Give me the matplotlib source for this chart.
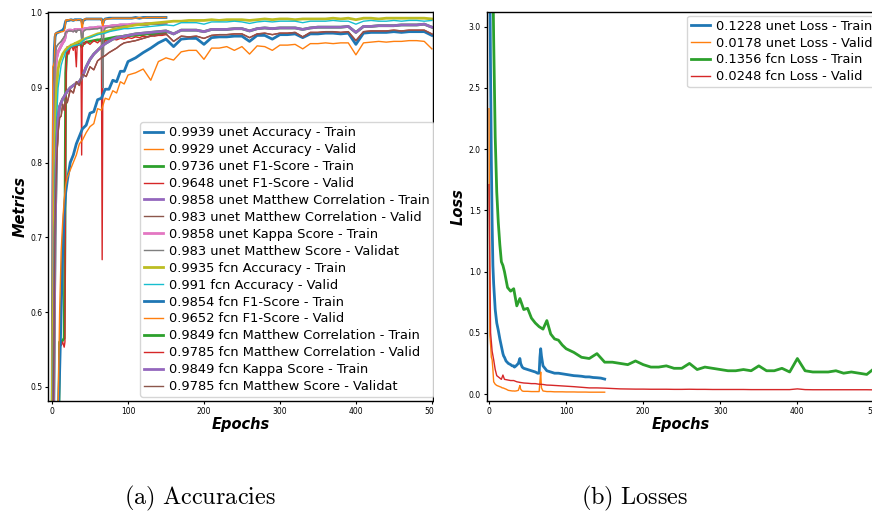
"""Training curves for the unet / fcn comparison: metrics on the left, losses on the right."""
import matplotlib
matplotlib.use("Agg")
import matplotlib.pyplot as plt
from matplotlib.patches import Rectangle

plt.rcParams["mathtext.fontset"] = "cm"

W, H = 872, 513

# ---- epochs ---------------------------------------------------------------
UNET_EPOCHS = [0, 1, 2, 3, 4, 5, 6, 8, 10, 12,
               14, 16, 17, 18, 19, 20, 22, 25, 28, 30,
               32, 33, 35, 38, 39, 40, 41, 43, 45, 50,
               55, 60, 63, 65, 66, 67, 68, 70, 75, 80,
               85, 90, 95, 100, 105, 110, 115, 120, 125, 130,
               135, 140, 145, 150]

FCN_EPOCHS = [0, 2, 4, 6, 8, 10, 12, 14, 16, 18,
              20, 24, 28, 32, 36, 40, 45, 50, 55, 60,
              65, 70, 75, 80, 85, 90, 95, 100, 110, 120,
              130, 140, 150, 160, 170, 180, 190, 200, 210, 220,
              230, 240, 250, 260, 270, 280, 290, 300, 310, 320,
              330, 340, 350, 360, 370, 380, 390, 400, 410, 420,
              430, 440, 450, 460, 470, 480, 490, 500]

# ---- unet metrics ---------------------------------------------------------
UNET_ACC_TRAIN = [0.40, 0.75, 0.90, 0.95, 0.968, 0.972, 0.973, 0.974, 0.975, 0.976,
                  0.977, 0.980, 0.985, 0.989, 0.990, 0.990, 0.990, 0.991, 0.990, 0.991,
                  0.991, 0.991, 0.991, 0.991, 0.990, 0.986, 0.990, 0.991, 0.992, 0.992,
                  0.992, 0.992, 0.992, 0.992, 0.990, 0.986, 0.990, 0.992, 0.993, 0.993,
                  0.993, 0.993, 0.993, 0.993, 0.993, 0.994, 0.993, 0.994, 0.994, 0.994,
                  0.994, 0.994, 0.994, 0.994]
UNET_ACC_VALID = [0.45, 0.928, 0.930, 0.935, 0.972, 0.973, 0.973, 0.974, 0.974, 0.975,
                  0.975, 0.976, 0.980, 0.990, 0.991, 0.990, 0.991, 0.991, 0.990, 0.991,
                  0.990, 0.991, 0.991, 0.991, 0.982, 0.978, 0.990, 0.992, 0.992, 0.992,
                  0.992, 0.992, 0.992, 0.992, 0.985, 0.979, 0.990, 0.992, 0.992, 0.993,
                  0.993, 0.993, 0.993, 0.993, 0.993, 0.993, 0.994, 0.993, 0.994, 0.994,
                  0.994, 0.994, 0.994, 0.994]
UNET_F1_TRAIN = [0.20, 0.22, 0.25, 0.27, 0.30, 0.32, 0.34, 0.38, 0.56, 0.560,
                 0.562, 0.565, 0.70, 0.92, 0.94, 0.948, 0.952, 0.955, 0.956, 0.957,
                 0.955, 0.957, 0.958, 0.959, 0.955, 0.956, 0.959, 0.960, 0.961, 0.962,
                 0.963, 0.964, 0.964, 0.965, 0.962, 0.958, 0.963, 0.965, 0.966, 0.967,
                 0.968, 0.968, 0.969, 0.969, 0.970, 0.970, 0.971, 0.971, 0.972, 0.972,
                 0.972, 0.973, 0.973, 0.974]
UNET_F1_VALID = [0.20, 0.22, 0.25, 0.27, 0.30, 0.32, 0.34, 0.38, 0.56, 0.555,
                 0.560, 0.553, 0.560, 0.880, 0.940, 0.955, 0.945, 0.958, 0.950, 0.960,
                 0.928, 0.955, 0.960, 0.955, 0.810, 0.955, 0.960, 0.958, 0.962, 0.958,
                 0.963, 0.960, 0.963, 0.962, 0.670, 0.955, 0.960, 0.963, 0.962, 0.965,
                 0.964, 0.966, 0.965, 0.967, 0.966, 0.968, 0.967, 0.969, 0.968, 0.970,
                 0.969, 0.970, 0.970, 0.971]
# matthew correlation and kappa coincide for unet train
UNET_MC_TRAIN = [0.30, 0.45, 0.65, 0.80, 0.90, 0.930, 0.940, 0.948, 0.952, 0.956,
                 0.960, 0.963, 0.966, 0.972, 0.975, 0.976, 0.977, 0.977, 0.976, 0.978,
                 0.977, 0.978, 0.978, 0.978, 0.976, 0.975, 0.978, 0.979, 0.979, 0.980,
                 0.980, 0.981, 0.981, 0.981, 0.979, 0.977, 0.980, 0.982, 0.982, 0.983,
                 0.983, 0.984, 0.984, 0.984, 0.985, 0.985, 0.985, 0.985, 0.986, 0.986,
                 0.986, 0.986, 0.986, 0.986]
UNET_KAPPA_TRAIN = UNET_MC_TRAIN
UNET_MC_VALID = [0.30, 0.50, 0.70, 0.85, 0.93, 0.950, 0.955, 0.958, 0.960, 0.962,
                 0.965, 0.968, 0.970, 0.974, 0.975, 0.975, 0.976, 0.976, 0.975, 0.977,
                 0.974, 0.977, 0.977, 0.977, 0.965, 0.958, 0.975, 0.977, 0.978, 0.978,
                 0.979, 0.979, 0.980, 0.980, 0.930, 0.900, 0.975, 0.980, 0.981, 0.981,
                 0.982, 0.982, 0.983, 0.983, 0.983, 0.984, 0.984, 0.984, 0.984, 0.985,
                 0.985, 0.985, 0.985, 0.985]
UNET_MS_VALID = UNET_MC_VALID

# ---- fcn metrics ----------------------------------------------------------
FCN_ACC_TRAIN = [0.46, 0.62, 0.84, 0.90, 0.925, 0.935, 0.940, 0.945, 0.948, 0.951,
                 0.953, 0.956, 0.958, 0.960, 0.962, 0.964, 0.966, 0.968, 0.970, 0.972,
                 0.973, 0.975, 0.976, 0.978, 0.979, 0.980, 0.981, 0.982, 0.984, 0.985,
                 0.986, 0.987, 0.988, 0.989, 0.989, 0.990, 0.990, 0.990, 0.991, 0.990,
                 0.991, 0.991, 0.991, 0.990, 0.991, 0.992, 0.991, 0.992, 0.992, 0.991,
                 0.992, 0.992, 0.992, 0.992, 0.993, 0.992, 0.993, 0.991, 0.993, 0.993,
                 0.992, 0.993, 0.993, 0.993, 0.993, 0.993, 0.993, 0.992]
FCN_ACC_VALID = [0.40, 0.55, 0.78, 0.86, 0.900, 0.915, 0.930, 0.937, 0.942, 0.948,
                 0.950, 0.954, 0.956, 0.957, 0.958, 0.962, 0.966, 0.967, 0.969, 0.971,
                 0.972, 0.973, 0.975, 0.976, 0.977, 0.978, 0.979, 0.979, 0.980, 0.981,
                 0.982, 0.983, 0.984, 0.983, 0.987, 0.987, 0.987, 0.985, 0.988, 0.988,
                 0.988, 0.989, 0.988, 0.986, 0.988, 0.989, 0.988, 0.989, 0.989, 0.989,
                 0.987, 0.989, 0.989, 0.989, 0.990, 0.989, 0.989, 0.985, 0.989, 0.990,
                 0.989, 0.989, 0.990, 0.989, 0.990, 0.990, 0.989, 0.990]
FCN_F1_TRAIN = [0.30, 0.32, 0.35, 0.40, 0.45, 0.52, 0.60, 0.68, 0.73, 0.76,
                0.775, 0.800, 0.810, 0.825, 0.835, 0.845, 0.850, 0.866, 0.868, 0.884,
                0.886, 0.898, 0.898, 0.910, 0.908, 0.922, 0.922, 0.935, 0.940, 0.947,
                0.953, 0.960, 0.965, 0.955, 0.965, 0.966, 0.966, 0.958, 0.967, 0.968,
                0.968, 0.969, 0.969, 0.962, 0.970, 0.970, 0.965, 0.971, 0.971, 0.972,
                0.967, 0.972, 0.972, 0.973, 0.973, 0.972, 0.973, 0.958, 0.973, 0.974,
                0.974, 0.974, 0.975, 0.974, 0.975, 0.975, 0.975, 0.970]
FCN_F1_VALID = [0.30, 0.32, 0.35, 0.40, 0.47, 0.60, 0.68, 0.72, 0.75, 0.77,
                0.780, 0.790, 0.800, 0.810, 0.825, 0.830, 0.840, 0.848, 0.852, 0.872,
                0.870, 0.886, 0.884, 0.896, 0.893, 0.908, 0.905, 0.917, 0.920, 0.925,
                0.910, 0.935, 0.940, 0.937, 0.948, 0.950, 0.950, 0.938, 0.953, 0.953,
                0.955, 0.950, 0.955, 0.945, 0.956, 0.955, 0.950, 0.957, 0.957, 0.958,
                0.952, 0.959, 0.959, 0.960, 0.959, 0.960, 0.960, 0.944, 0.960, 0.961,
                0.962, 0.961, 0.962, 0.962, 0.963, 0.963, 0.962, 0.952]
# correlation and kappa coincide for fcn train, correlation and score for valid
FCN_MC_TRAIN = [0.30, 0.45, 0.70, 0.82, 0.860, 0.875, 0.880, 0.885, 0.888, 0.892,
                0.895, 0.900, 0.903, 0.906, 0.908, 0.915, 0.928, 0.938, 0.945, 0.950,
                0.955, 0.959, 0.962, 0.965, 0.967, 0.968, 0.969, 0.970, 0.972, 0.973,
                0.974, 0.975, 0.976, 0.972, 0.977, 0.977, 0.977, 0.975, 0.978, 0.978,
                0.978, 0.979, 0.979, 0.976, 0.979, 0.980, 0.979, 0.980, 0.980, 0.980,
                0.978, 0.980, 0.981, 0.981, 0.981, 0.981, 0.982, 0.974, 0.982, 0.982,
                0.983, 0.983, 0.983, 0.984, 0.984, 0.984, 0.985, 0.981]
FCN_KAPPA_TRAIN = FCN_MC_TRAIN
FCN_MC_VALID = [0.30, 0.50, 0.72, 0.80, 0.840, 0.860, 0.862, 0.878, 0.870, 0.885,
                0.880, 0.897, 0.893, 0.908, 0.903, 0.918, 0.915, 0.928, 0.924, 0.936,
                0.940, 0.943, 0.947, 0.950, 0.953, 0.957, 0.960, 0.961, 0.963, 0.966,
                0.969, 0.971, 0.972, 0.962, 0.969, 0.968, 0.969, 0.966, 0.970, 0.971,
                0.971, 0.972, 0.972, 0.967, 0.972, 0.973, 0.971, 0.973, 0.973, 0.974,
                0.968, 0.974, 0.974, 0.975, 0.975, 0.974, 0.975, 0.963, 0.975, 0.976,
                0.976, 0.976, 0.977, 0.976, 0.977, 0.977, 0.977, 0.972]
FCN_MS_VALID = FCN_MC_VALID

# ---- losses ---------------------------------------------------------------
UNET_LOSS_TRAIN = [4.20, 3.40, 2.60, 1.90, 1.40, 1.05, 0.90, 0.69, 0.58, 0.52,
                   0.45, 0.39, 0.36, 0.33, 0.31, 0.30, 0.27, 0.25, 0.24, 0.23,
                   0.23, 0.22, 0.23, 0.25, 0.27, 0.29, 0.25, 0.22, 0.21, 0.20,
                   0.19, 0.18, 0.17, 0.17, 0.30, 0.37, 0.31, 0.23, 0.19, 0.18,
                   0.17, 0.17, 0.165, 0.16, 0.155, 0.15, 0.148, 0.145, 0.14, 0.14,
                   0.135, 0.133, 0.13, 0.122]
UNET_LOSS_VALID = [2.33, 0.48, 0.40, 0.30, 0.28, 0.20, 0.10, 0.080, 0.070, 0.065,
                   0.060, 0.055, 0.050, 0.050, 0.048, 0.045, 0.040, 0.030, 0.027, 0.025,
                   0.025, 0.024, 0.025, 0.030, 0.050, 0.070, 0.040, 0.025, 0.022, 0.022,
                   0.020, 0.020, 0.020, 0.020, 0.100, 0.180, 0.050, 0.025, 0.020, 0.020,
                   0.018, 0.018, 0.018, 0.017, 0.017, 0.017, 0.016, 0.016, 0.016, 0.015,
                   0.015, 0.015, 0.015, 0.015]
FCN_LOSS_TRAIN = [6.00, 5.00, 3.90, 2.90, 2.10, 1.65, 1.40, 1.22, 1.08, 1.05,
                  1.00, 0.87, 0.84, 0.86, 0.72, 0.78, 0.69, 0.70, 0.62, 0.58,
                  0.55, 0.53, 0.60, 0.49, 0.45, 0.44, 0.40, 0.37, 0.34, 0.30,
                  0.29, 0.33, 0.26, 0.26, 0.25, 0.24, 0.27, 0.24, 0.22, 0.22,
                  0.23, 0.21, 0.21, 0.25, 0.20, 0.22, 0.21, 0.20, 0.19, 0.19,
                  0.20, 0.19, 0.23, 0.19, 0.19, 0.21, 0.18, 0.29, 0.19, 0.18,
                  0.18, 0.18, 0.19, 0.17, 0.18, 0.17, 0.16, 0.21]
FCN_LOSS_VALID = [1.71, 0.50, 0.35, 0.28, 0.20, 0.15, 0.14, 0.13, 0.12, 0.155,
                  0.12, 0.115, 0.11, 0.11, 0.10, 0.095, 0.09, 0.088, 0.085, 0.085,
                  0.08, 0.078, 0.073, 0.072, 0.07, 0.068, 0.066, 0.064, 0.06, 0.055,
                  0.05, 0.05, 0.048, 0.045, 0.042, 0.041, 0.040, 0.040, 0.039, 0.039,
                  0.039, 0.038, 0.038, 0.039, 0.038, 0.038, 0.037, 0.037, 0.037, 0.037,
                  0.037, 0.036, 0.036, 0.036, 0.036, 0.036, 0.036, 0.042, 0.036, 0.035,
                  0.035, 0.035, 0.035, 0.035, 0.035, 0.035, 0.035, 0.034]

METRIC_LABELS = [
    "0.9939 unet Accuracy - Train", "0.9929 unet Accuracy - Valid",
    "0.9736 unet F1-Score - Train", "0.9648 unet F1-Score - Valid",
    "0.9858 unet Matthew Correlation - Train", "0.983 unet Matthew Correlation - Valid",
    "0.9858 unet Kappa Score - Train", "0.983 unet Matthew Score - Validat",
    "0.9935 fcn Accuracy - Train", "0.991 fcn Accuracy - Valid",
    "0.9854 fcn F1-Score - Train", "0.9652 fcn F1-Score - Valid",
    "0.9849 fcn Matthew Correlation - Train", "0.9785 fcn Matthew Correlation - Valid",
    "0.9849 fcn Kappa Score - Train", "0.9785 fcn Matthew Score - Validat",
]
LOSS_LABELS = [
    "0.1228 unet Loss - Train", "0.0178 unet Loss - Valid",
    "0.1356 fcn Loss - Train", "0.0248 fcn Loss - Valid",
]

metric_series = [
    (UNET_EPOCHS, UNET_ACC_TRAIN), (UNET_EPOCHS, UNET_ACC_VALID),
    (UNET_EPOCHS, UNET_F1_TRAIN), (UNET_EPOCHS, UNET_F1_VALID),
    (UNET_EPOCHS, UNET_MC_TRAIN), (UNET_EPOCHS, UNET_MC_VALID),
    (UNET_EPOCHS, UNET_KAPPA_TRAIN), (UNET_EPOCHS, UNET_MS_VALID),
    (FCN_EPOCHS, FCN_ACC_TRAIN), (FCN_EPOCHS, FCN_ACC_VALID),
    (FCN_EPOCHS, FCN_F1_TRAIN), (FCN_EPOCHS, FCN_F1_VALID),
    (FCN_EPOCHS, FCN_MC_TRAIN), (FCN_EPOCHS, FCN_MC_VALID),
    (FCN_EPOCHS, FCN_KAPPA_TRAIN), (FCN_EPOCHS, FCN_MS_VALID),
]
loss_series = [
    (UNET_EPOCHS, UNET_LOSS_TRAIN), (UNET_EPOCHS, UNET_LOSS_VALID),
    (FCN_EPOCHS, FCN_LOSS_TRAIN), (FCN_EPOCHS, FCN_LOSS_VALID),
]

LEGEND_KW = dict(borderaxespad=0, fontsize=9.4, labelspacing=0.3,
                 handlelength=1.45, handletextpad=0.5, borderpad=0.3,
                 framealpha=0.8)


def _px(x0, y0, x1, y1):
    """pixel box (left, top, right, bottom) -> figure fraction rect"""
    return [x0 / W, 1 - y1 / H, (x1 - x0) / W, (y1 - y0) / H]


def _style(ax, ylabel):
    ax.set_xlabel("Epochs", fontsize=10.5, fontweight="bold", style="italic", labelpad=1)
    ax.set_ylabel(ylabel, fontsize=10.5, fontweight="bold", style="italic", labelpad=2)
    ax.tick_params(labelsize=5.5, length=2.5, pad=1.5, width=0.8)
    ax.set_xticks([0, 100, 200, 300, 400, 500])
    for s in ax.spines.values():
        s.set_linewidth(1.0)


fig = plt.figure(figsize=(W / 100, H / 100), dpi=100)

ax1 = fig.add_axes(_px(48, 12, 433, 401))
for (ep, vals), lab in zip(metric_series, METRIC_LABELS):
    ax1.plot(ep, vals, lw=2.0 if lab.endswith("Train") else 1.0, label=lab)
ax1.set_xlim(-5.3, 501.5)
ax1.set_ylim(0.481, 1.0013)
ax1.set_yticks([0.5, 0.6, 0.7, 0.8, 0.9, 1.0])
_style(ax1, "Metrics")
ax1.legend(loc="lower right", bbox_to_anchor=(434 / W, 1 - 397 / H),
           bbox_transform=fig.transFigure, **LEGEND_KW)

ax2 = fig.add_axes(_px(486.5, 12, 876, 401))
for (ep, vals), lab in zip(loss_series, LOSS_LABELS):
    ax2.plot(ep, vals, lw=2.0 if lab.endswith("Train") else 1.0, label=lab)
ax2.set_xlim(-3.3, 502)
ax2.set_ylim(-0.057, 3.12)
ax2.set_yticks([0.0, 0.5, 1.0, 1.5, 2.0, 2.5, 3.0])
_style(ax2, "Loss")
ax2.legend(loc="upper left", bbox_to_anchor=(687 / W, 1 - 15.7 / H),
           bbox_transform=fig.transFigure, **LEGEND_KW)

# the two panels were separate images: blank the strip between them
fig.patches.append(Rectangle((434 / W, 1 - 445 / H), 6 / W, 445 / H,
                             transform=fig.transFigure, facecolor="white",
                             edgecolor="none", zorder=10))

fig.text(200 / W, 1 - 498 / H, r"$\mathrm{(a)\ Accuracies}$", fontsize=17.5,
         ha="center", va="center")
fig.text(635 / W, 1 - 498 / H, r"$\mathrm{(b)\ Losses}$", fontsize=17.5,
         ha="center", va="center")

fig.savefig("out.png", dpi=100)
